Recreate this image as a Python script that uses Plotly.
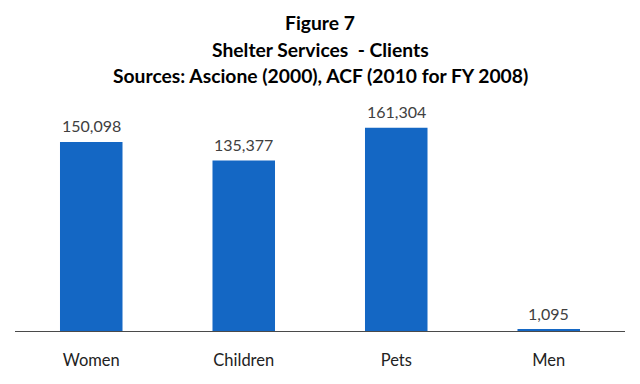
import plotly.graph_objects as go

categories = ["Women", "Children", "Pets", "Men"]
clients = [150098, 135377, 161304, 1095]
labels = ["150,098", "135,377", "161,304", "1,095"]
title_lines = ["Figure 7", "Shelter Services  - Clients", "Sources: Ascione (2000), ACF (2010 for FY 2008)"]

FONT = "Lato, Calibri, sans-serif"
TOP, BOT = 80, 331
H = BOT - TOP

fig = go.Figure(go.Bar(
    x=categories, y=clients,
    marker=dict(color="#1467C4", line=dict(width=0)),
    width=0.41, hoverinfo="skip",
))

for c, v, lab in zip(categories, clients, labels):
    fig.add_annotation(x=c, y=v, text=lab, showarrow=False, yanchor="middle",
                       yshift=16, font=dict(family=FONT, size=16, color="#404040"))

for t, yy in zip(title_lines, [23, 49, 75]):
    fig.add_annotation(text="<b>%s</b>" % t, xref="paper", yref="paper",
                       x=0.5, y=1 + (TOP - yy) / H, xanchor="center", yanchor="middle",
                       showarrow=False, font=dict(family=FONT, size=19.3, color="#000000"))

fig.update_layout(
    width=640, height=384,
    margin=dict(l=15, r=15, t=TOP, b=384 - BOT),
    paper_bgcolor="white", plot_bgcolor="white",
    showlegend=False,
    xaxis=dict(showline=True, linecolor="#4a4a4a", linewidth=1, ticks="",
               tickfont=dict(family=FONT, size=16.5, color="#222222"), showgrid=False,
               ticklabelstandoff=14),
    yaxis=dict(visible=False, range=[0, 199300], showgrid=False, zeroline=False),
)

fig.write_html("out.html", config={"displayModeBar": False},
               post_script="document.body.style.margin='0';")
